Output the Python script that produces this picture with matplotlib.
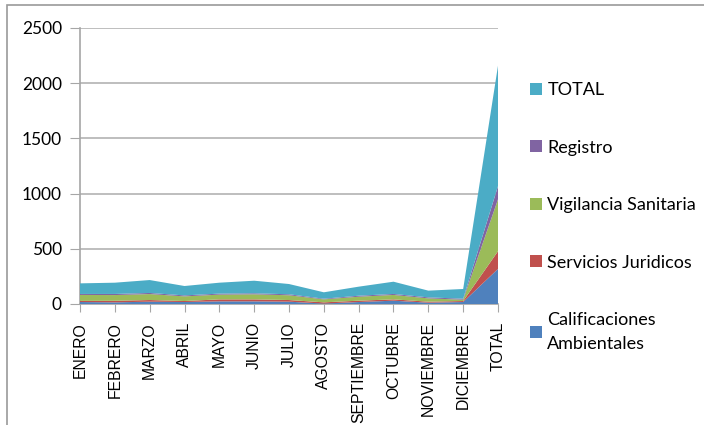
import numpy as np
import matplotlib
matplotlib.use('Agg')
import matplotlib.pyplot as plt
from matplotlib.patches import Rectangle, Patch

# valores (cada capa apilada)
categorias = ['ENERO', 'FEBRERO', 'MARZO', 'ABRIL', 'MAYO', 'JUNIO', 'JULIO',
              'AGOSTO', 'SEPTIEMBRE', 'OCTUBRE', 'NOVIEMBRE', 'DICIEMBRE', 'TOTAL']
calificaciones = [18, 15, 21, 18, 24, 24, 21, 4, 18, 30, 12, 18, 318]
servicios = [10, 14, 15, 9, 18, 18, 15, 11, 12, 12, 9, 9, 160]
vigilancia = [54, 52, 54, 42, 43, 46, 43, 27, 36, 40, 30, 12, 470]
registro = [9, 10, 10, 9, 9, 9, 9, 6, 9, 9, 9, 9, 120]
total = [96, 102, 117, 85, 99, 114, 93, 58, 82, 111, 61, 88, 1090]

series = ['Calificaciones\nAmbientales', 'Servicios Juridicos',
          'Vigilancia Sanitaria', 'Registro', 'TOTAL']
colores = ['#4F81BD', '#C0504D', '#9BBB59', '#8064A2', '#4BACC6']

W, H = 704, 425
fig = plt.figure(figsize=(W / 100, H / 100), dpi=100)
ax = fig.add_axes([80 / W, 1 - 304 / H, (498 - 80) / W, (304 - 28) / H])

x = np.arange(len(categorias))
ax.stackplot(x, calificaciones, servicios, vigilancia, registro, total,
             colors=colores, linewidth=0, zorder=3)

ax.set_xlim(0, len(categorias) - 1)
ax.set_ylim(0, 2500)
ax.set_yticks(np.arange(0, 2501, 500))
ax.yaxis.grid(True, color='#b3b3b3', linewidth=1.2, zorder=0)
ax.set_axisbelow(True)

for s in ['top', 'right']:
    ax.spines[s].set_visible(False)
for s in ['left', 'bottom']:
    ax.spines[s].set_color('#a6a6a6')
    ax.spines[s].set_linewidth(1.2)

ax.set_xticks(x)
ax.set_xticklabels(categorias, rotation=90, fontfamily='Liberation Sans', fontsize=11.3)
ax.tick_params(axis='x', length=6, color='#a6a6a6', pad=7)
ax.tick_params(axis='y', length=7, color='#a6a6a6', pad=6, labelsize=12.5)
for lab in ax.get_yticklabels():
    lab.set_fontfamily('Lato')

handles = [Patch(facecolor=c, edgecolor='none') for c in colores]
leg = ax.legend(handles[::-1], series[::-1], loc='upper left',
                bbox_to_anchor=(523 / W, 1 - 75 / H), bbox_transform=fig.transFigure,
                frameon=False, prop={'family': 'Lato', 'size': 13},
                handlelength=0.65, handleheight=0.65, handletextpad=0.3,
                labelspacing=2.3, borderaxespad=0)
for t in leg.get_texts():
    t.set_linespacing(1.6)

# marco exterior gris
fig.add_artist(Rectangle((7 / W, -0.2), 1.5, 1.2 - 5 / H, transform=fig.transFigure,
                         fill=False, edgecolor='#9a9a9a', linewidth=1.2))

fig.savefig('out.png', dpi=100)
